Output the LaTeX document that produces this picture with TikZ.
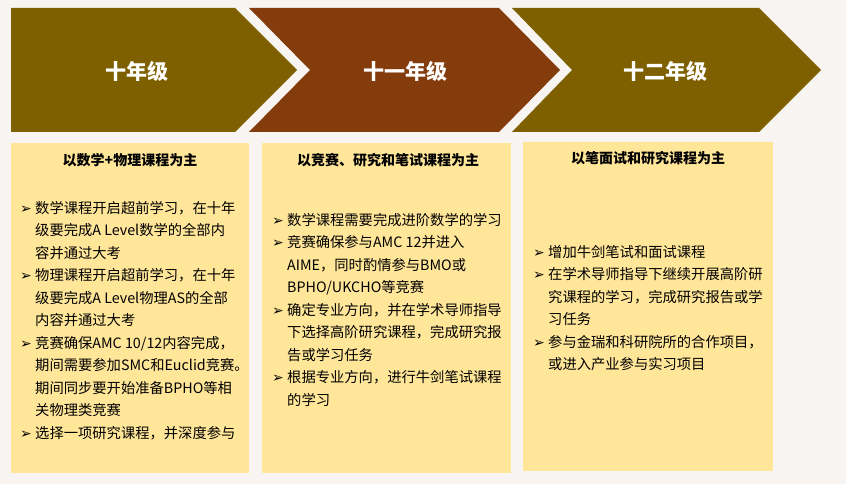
\documentclass[tikz,border=0pt]{standalone}
\usepackage{fontspec}
\setmainfont{Noto Sans CJK SC}
\newfontfamily\dejavu{DejaVu Sans}
\newcommand{\bul}{\makebox[15pt][l]{\dejavu\fontsize{14}{14}\selectfont ➢}}
\newcommand{\ind}{\hspace*{15pt}}

\begin{document}
\begin{tikzpicture}[x=1pt,y=-1pt]
  % Colors
    \definecolor{olivebar}{HTML}{7F6000}
    \definecolor{brownbar}{HTML}{843C0C}
    \definecolor{notepad}{HTML}{FFE699}
    \definecolor{paper}{HTML}{F7F4F2}

  % Styles
    \tikzstyle{gradetext}=[text=white,font=\fontsize{21}{21}\selectfont\bfseries]
    \tikzstyle{title}=[font=\fontsize{14}{14}\selectfont\bfseries]
    \tikzstyle{items}=[anchor=north west,align=left,inner sep=0pt,
      font=\fontsize{14.3}{22.5}\selectfont]

  % Background
    \fill[paper] (0,0) rectangle (846,484);
    \useasboundingbox (0,0) rectangle (846,484);

  % The chevrons
    \fill[olivebar] (11,8) -- (235,8) -- (297,70) -- (235,132) -- (11,132) -- cycle;
    \fill[brownbar] (249,8) -- (499,8) -- (560,70) -- (499,132) -- (249,132) -- (310,70) -- cycle;
    \fill[olivebar] (512,8) -- (759,8) -- (821,70) -- (759,132) -- (512,132) -- (572,70) -- cycle;

    \node[gradetext] (g10) at (137,71) {十年级};
    \node[gradetext] (g11) at (405,71) {十一年级};
    \node[gradetext] (g12) at (665,71) {十二年级};

  % The boxes
    \fill[notepad] (11,143) rectangle (249,473);
    \fill[notepad] (262,143) rectangle (511,473);
    \fill[notepad] (523,142) rectangle (773,471);

    \node[title] (t10) at (130,160) {以数学+物理课程为主};
    \node[title] (t11) at (388,160) {以竞赛、研究和笔试课程为主};
    \node[title] (t12) at (648,158) {以笔面试和研究课程为主};

    \node[items] (l10) at (20,201) {%
      \bul 数学课程开启超前学习，在十年\\
      \ind 级要完成A Level数学的全部内\\
      \ind 容并通过大考\\
      \bul 物理课程开启超前学习，在十年\\
      \ind 级要完成A Level物理AS的全部\\
      \ind 内容并通过大考\\
      \bul 竞赛确保AMC 10/12内容完成，\\
      \ind 期间需要参加SMC和Euclid竞赛。\\
      \ind 期间同步要开始准备BPHO等相\\
      \ind 关物理类竞赛\\
      \bul 选择一项研究课程，并深度参与};

    \node[items] (l11) at (272,213) {%
      \bul 数学课程需要完成进阶数学的学习\\
      \bul 竞赛确保参与AMC 12并进入\\
      \ind AIME，同时酌情参与BMO或\\
      \ind BPHO/UKCHO等竞赛\\
      \bul 确定专业方向，并在学术导师指导\\
      \ind 下选择高阶研究课程，完成研究报\\
      \ind 告或学习任务\\
      \bul 根据专业方向，进行牛剑笔试课程\\
      \ind 的学习};

    \node[items] (l12) at (533,245) {%
      \bul 增加牛剑笔试和面试课程\\
      \bul 在学术导师指导下继续开展高阶研\\
      \ind 究课程的学习，完成研究报告或学\\
      \ind 习任务\\
      \bul 参与金瑞和科研院所的合作项目，\\
      \ind 或进入产业参与实习项目};
\end{tikzpicture}
\end{document}
